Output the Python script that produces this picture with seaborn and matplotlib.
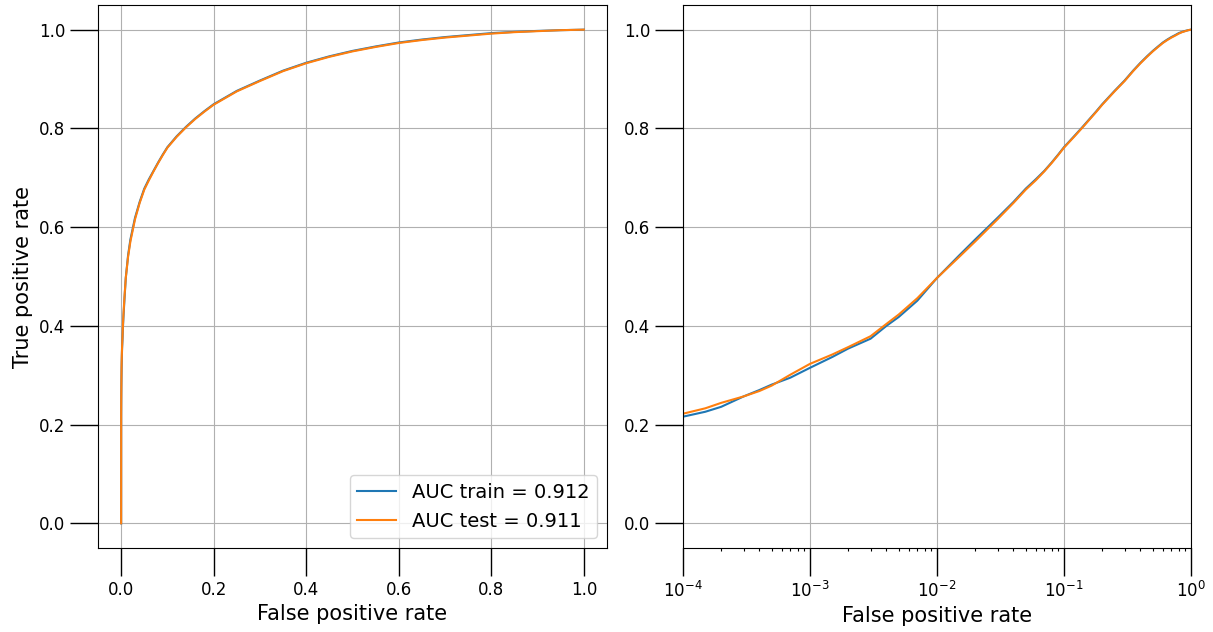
import matplotlib
matplotlib.use("Agg")
import matplotlib.pyplot as plt
import seaborn as sns
import pandas as pd

# ROC data
fpr = [0, 1e-4, 1.5e-4, 2e-4, 3e-4, 4e-4, 5e-4, 7e-4, 1e-3, 1.5e-3, 2e-3, 3e-3,
       4e-3, 5e-3, 7e-3, 1e-2, 1.5e-2, 2e-2, 3e-2, 4e-2, 5e-2, 6e-2, 7e-2,
       8e-2, 9e-2, 0.1, 0.12, 0.14, 0.16, 0.18, 0.2, 0.25, 0.3, 0.35, 0.4,
       0.45, 0.5, 0.55, 0.6, 0.65, 0.7, 0.75, 0.8, 0.85, 0.9, 0.95, 1.0]
tpr_train = [0, 0.216, 0.226, 0.236, 0.257, 0.270, 0.281, 0.295, 0.315, 0.337,
             0.354, 0.374, 0.400, 0.418, 0.451, 0.497, 0.543, 0.575, 0.619,
             0.651, 0.678, 0.697, 0.714, 0.731, 0.747, 0.762, 0.784, 0.803,
             0.820, 0.835, 0.849, 0.876, 0.897, 0.917, 0.933, 0.946, 0.957,
             0.966, 0.974, 0.980, 0.985, 0.989, 0.993, 0.9955, 0.9975, 0.999, 1.0]
tpr_test = [0, 0.222, 0.233, 0.244, 0.257, 0.268, 0.279, 0.301, 0.323, 0.342,
            0.357, 0.379, 0.404, 0.423, 0.456, 0.497, 0.540, 0.571, 0.616,
            0.649, 0.676, 0.695, 0.713, 0.730, 0.746, 0.761, 0.783, 0.802,
            0.819, 0.834, 0.848, 0.875, 0.896, 0.916, 0.932, 0.945, 0.956,
            0.965, 0.973, 0.979, 0.984, 0.988, 0.992, 0.995, 0.997, 0.999, 1.0]
labels = ["AUC train = 0.912", "AUC test = 0.911"]
colors = ["#1f77b4", "#ff7f0e"]

df = pd.concat([
    pd.DataFrame({"fpr": fpr, "tpr": tpr_train, "set": labels[0]}),
    pd.DataFrame({"fpr": fpr, "tpr": tpr_test, "set": labels[1]}),
], ignore_index=True)

fig = plt.figure(figsize=(12.13, 6.32), dpi=100)
ax1 = fig.add_axes([0.0808, 0.1329, 0.4196, 0.8592])
ax2 = fig.add_axes([0.5630, 0.1329, 0.4189, 0.8592])

sns.lineplot(data=df, x="fpr", y="tpr", hue="set", hue_order=labels,
             palette=colors, estimator=None, sort=False, legend=False,
             linewidth=1.5, ax=ax1)
ax1.set_xlim(-0.05, 1.05)
ax1.set_ylim(-0.05, 1.05)
ax1.set_xticks([0, 0.2, 0.4, 0.6, 0.8, 1.0])
ax1.set_yticks([0, 0.2, 0.4, 0.6, 0.8, 1.0])
ax1.set_xlabel("False positive rate", fontsize=15)
ax1.set_ylabel("True positive rate", fontsize=15)
ax1.legend(handles=ax1.lines[:2], labels=labels, loc="lower right", fontsize=14)

ax2.set_xscale("log")
dpos = df[df["fpr"] > 0]
sns.lineplot(data=dpos, x="fpr", y="tpr", hue="set", hue_order=labels,
             palette=colors, estimator=None, sort=False, legend=False,
             linewidth=1.5, ax=ax2)
ax2.set_xlim(1e-4, 1)
ax2.set_ylim(-0.05, 1.05)
ax2.set_yticks([0, 0.2, 0.4, 0.6, 0.8, 1.0])
ax2.set_xlabel("False positive rate", fontsize=15)
ax2.set_ylabel("")

for ax in (ax1, ax2):
    ax.grid(True, which="major", color="#b0b0b0", linewidth=0.8)
    ax.tick_params(which="major", length=20, width=1, labelsize=12)
    ax.tick_params(which="minor", length=2.5, width=0.8)
    ax.set_axisbelow(True)

fig.savefig("out.png", dpi=100)
